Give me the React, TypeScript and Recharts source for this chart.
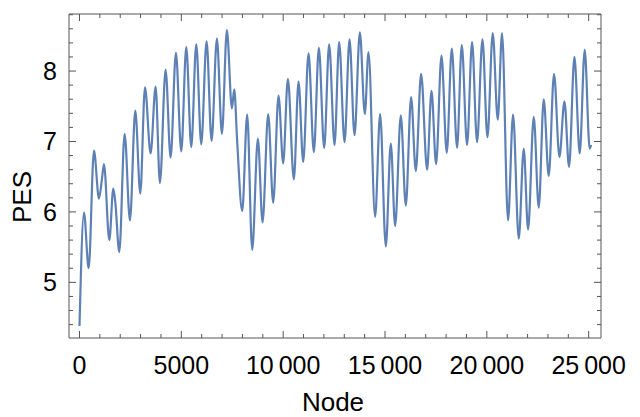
import { LineChart, Line, XAxis, YAxis, Label } from "recharts";

// node index along the path
const nodes = [
  0, 221, 450, 711, 957, 1100, 1202, 1464, 1660, 1758,
  1954, 2217, 2478, 2740, 2985, 3215, 3492, 3737, 3950, 4228,
  4474, 4735, 4997, 5243, 5488, 5733, 5978, 6240, 6486, 6747,
  6993, 7238, 7483, 7597, 7744, 7989, 8234, 8480, 8759, 8988,
  9265, 9510, 9773, 10000, 10231, 10525, 10755, 10983, 11245, 11507,
  11752, 12013, 12258, 12522, 12749, 13013, 13258, 13504, 13765, 14010,
  14190, 14515, 14760, 15040, 15285, 15497, 15776, 16021, 16282, 16512,
  16773, 17067, 17283, 17508, 17773, 18033, 18279, 18539, 18770, 19030,
  19275, 19520, 19785, 20030, 20290, 20536, 20747, 21041, 21287, 21567,
  21812, 22024, 22304, 22548, 22794, 23039, 23299, 23564, 23810, 24036,
  24300, 24560, 24805, 25050, 25115,
];

const pes = [
  4.38, 5.99, 5.2, 6.87, 6.19, 6.46, 6.68, 5.6, 6.33, 6.14,
  5.43, 7.11, 5.88, 7.44, 6.26, 7.77, 6.83, 7.78, 6.41, 8.02,
  6.77, 8.26, 6.86, 8.34, 6.92, 8.38, 6.96, 8.42, 7.01, 8.46,
  7.11, 8.58, 7.47, 7.74, 6.99, 6.01, 7.38, 5.46, 7.04, 5.85,
  7.39, 6.13, 7.65, 6.69, 7.89, 6.46, 7.85, 6.71, 8.25, 6.85,
  8.33, 6.91, 8.38, 6.95, 8.41, 6.99, 8.45, 7.09, 8.55, 7.39,
  8.27, 5.93, 7.39, 5.51, 6.97, 5.8, 7.37, 6.09, 7.63, 6.58,
  7.96, 6.6, 7.72, 6.68, 8.22, 6.84, 8.32, 6.91, 8.37, 6.95,
  8.41, 6.99, 8.45, 7.06, 8.54, 7.31, 8.54, 5.88, 7.38, 5.62,
  6.9, 5.75, 7.35, 6.06, 7.6, 6.51, 7.96, 6.78, 7.57, 6.64,
  8.2, 6.83, 8.3, 6.9, 6.95,
];

const xMajor = [0, 5000, 10000, 15000, 20000, 25000];
const yMajor = [5, 6, 7, 8];

const xTicks: number[] = [];
for (let v = 0; v <= 25000; v += 1000) xTicks.push(v);
const yTicks: number[] = [];
for (let i = 22; i <= 44; i++) yTicks.push(Math.round(i * 2) / 10);

const data = nodes.map((n, i) => ({ node: n, pes: pes[i] }));

const FRAME = "#555";
const FONT = "'Liberation Sans', Arial, sans-serif";
const FS = 25;

function fmtX(v: number) {
  if (v < 10000) return String(v);
  return Math.floor(v / 1000) + "\u2009" + String(v % 1000).padStart(3, "0");
}

const BottomTick = (p: any) => {
  const { x, y, payload } = p;
  const major = xMajor.includes(payload.value);
  return (
    <g>
      <line x1={x} x2={x} y1={y} y2={y - (major ? 7 : 4)} stroke={FRAME} />
      {major && (
        <text x={x} y={y + 36} textAnchor="middle" fontSize={FS} fontFamily={FONT} fill="#000">
          {fmtX(payload.value)}
        </text>
      )}
    </g>
  );
};

const TopTick = (p: any) => {
  const { x, y, payload } = p;
  const major = xMajor.includes(payload.value);
  return <line x1={x} x2={x} y1={y} y2={y + (major ? 7 : 4)} stroke={FRAME} />;
};

const LeftTick = (p: any) => {
  const { x, y, payload } = p;
  const major = yMajor.some((m) => Math.abs(m - payload.value) < 1e-6);
  return (
    <g>
      <line x1={x} x2={x + (major ? 7 : 4)} y1={y} y2={y} stroke={FRAME} />
      {major && (
        <text x={x - 12} y={y + 9} textAnchor="end" fontSize={FS} fontFamily={FONT} fill="#000">
          {payload.value}
        </text>
      )}
    </g>
  );
};

const RightTick = (p: any) => {
  const { x, y, payload } = p;
  const major = yMajor.some((m) => Math.abs(m - payload.value) < 1e-6);
  return <line x1={x} x2={x - (major ? 7 : 4)} y1={y} y2={y} stroke={FRAME} />;
};

export default function App() {
  return (
    <LineChart
      width={624}
      height={409}
      data={data}
      margin={{ top: 5, right: 30, bottom: 0, left: 0 }}
    >
      <XAxis
        dataKey="node"
        type="number"
        domain={[-515, 25605]}
        allowDataOverflow
        ticks={xTicks}
        interval={0}
        tick={<BottomTick />}
        tickSize={0}
        tickMargin={0}
        tickLine={false}
        axisLine={{ stroke: FRAME }}
        height={79}
      >
        <Label
          content={() => (
            <text x={325} y={394} textAnchor="middle" dominantBaseline="central" fontSize={FS + 1} fontFamily={FONT} fill="#000">
              Node
            </text>
          )}
        />
      </XAxis>
      <XAxis
        xAxisId="top"
        orientation="top"
        dataKey="node"
        type="number"
        domain={[-515, 25605]}
        allowDataOverflow
        ticks={xTicks}
        interval={0}
        tick={<TopTick />}
        tickSize={0}
        tickMargin={0}
        tickLine={false}
        axisLine={{ stroke: FRAME }}
        height={1}
      />
      <YAxis
        type="number"
        domain={[4.21, 8.81]}
        allowDataOverflow
        ticks={yTicks}
        interval={0}
        tick={<LeftTick />}
        tickSize={0}
        tickMargin={0}
        tickLine={false}
        axisLine={{ stroke: FRAME }}
        width={61}
      >
        <Label
          content={() => (
            <text
              x={14}
              y={189}
              transform="rotate(-90, 14, 189)"
              textAnchor="middle"
              dominantBaseline="central"
              fontSize={FS + 1}
              fontFamily={FONT}
              fill="#000"
            >
              PES
            </text>
          )}
        />
      </YAxis>
      <YAxis
        yAxisId="right"
        orientation="right"
        type="number"
        domain={[4.21, 8.81]}
        allowDataOverflow
        ticks={yTicks}
        interval={0}
        tick={<RightTick />}
        tickSize={0}
        tickMargin={0}
        tickLine={false}
        axisLine={{ stroke: FRAME }}
        width={1}
      />
      <Line
        dataKey="pes"
        type="monotone"
        stroke="#5E81B5"
        strokeWidth={2.2}
        dot={false}
        isAnimationActive={false}
      />
    </LineChart>
  );
}
